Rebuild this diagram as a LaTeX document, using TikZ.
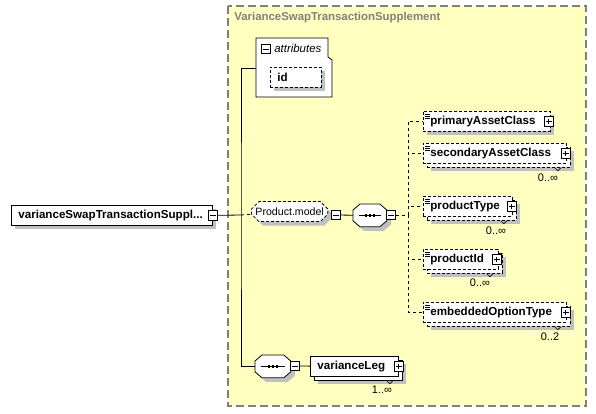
\documentclass[tikz,border=0pt]{standalone}
\usepackage{fontspec}
\setmainfont{Liberation Sans}
\usetikzlibrary{shapes.misc,shadows,positioning,calc}
\definecolor{bgyellow}{RGB}{255,255,192}
\definecolor{frame1}{RGB}{128,128,128}
\definecolor{shade1}{RGB}{192,192,192}

\tikzset{
  shad/.style={drop shadow={shadow xshift=#1, shadow yshift=-#1, fill=shade1, opacity=1}},
  elem/.style={draw, fill=white, anchor=north west, minimum height=20pt, inner xsep=7pt, inner ysep=0pt,
    font=\fontsize{11.6pt}{13pt}\selectfont\bfseries, align=left, shad=4pt},
  att/.style={elem, dash pattern=on 3pt off 2pt},
  opt/.style={att, path picture={
    \foreach \dy in {2.5,4.5,6.5}
      \draw[solid, line width=0.6pt] ([shift={(2pt,-\dy pt)}]path picture bounding box.north west) -- ++(5pt,0pt);}},
  multi/.style={shad=8pt, copy shadow={shadow xshift=4pt, shadow yshift=-4pt}},
  grp/.style={chamfered rectangle, chamfered rectangle xsep=4pt, draw, dash pattern=on 3pt off 2pt, fill=white,
    anchor=north west, minimum height=20pt, inner sep=0pt, shad=4pt},
  seq/.style={anchor=north west, minimum width=33pt, minimum height=22pt, inner sep=0pt},
  tog/.style={draw, fill=white, minimum size=9.5pt, inner sep=0pt},
  minus/.style={tog, path picture={
    \draw ([xshift=2pt]path picture bounding box.west) -- ([xshift=-2pt]path picture bounding box.east);}},
  plus/.style={tog, path picture={
    \draw ([xshift=2pt]path picture bounding box.west) -- ([xshift=-2pt]path picture bounding box.east)
          ([yshift=-2pt]path picture bounding box.north) -- ([yshift=2pt]path picture bounding box.south);}},
  mult/.style={font=\fontsize{11pt}{13pt}\selectfont, inner sep=0pt},
}

% outline and sign of a sequence compositor round node #1
\newcommand{\seqbox}[1]{%
  \draw[fill=white, shad=4pt] ([xshift=7pt]#1.north west) -- ([xshift=-7pt]#1.north east)
    -- ([yshift=-6pt]#1.north east) -- ([yshift=6pt]#1.south east) -- ([xshift=-7pt]#1.south east)
    -- ([xshift=7pt]#1.south west) -- ([yshift=6pt]#1.south west) -- ([yshift=-6pt]#1.north west) -- cycle;
  \draw ([xshift=6pt]#1.west) -- ([xshift=-6pt]#1.east);
  \foreach \dx in {-4,0,4}
    \fill ([xshift=\dx pt]#1.center) +(-1.3pt,-1.3pt) rectangle +(1.3pt,1.3pt);}

\begin{document}
\begin{tikzpicture}[x=1pt, y=-1pt, line width=0.8pt]
    \useasboundingbox (0,0) rectangle (596,413);

    % complex type frame
    \draw[fill=bgyellow, draw=frame1, line width=1.2pt, dash pattern=on 8pt off 4pt] (228,6) rectangle (586,406);
    \node[anchor=west, text=frame1, font=\fontsize{11.4pt}{13pt}\selectfont\bfseries, inner sep=0pt] (title) at (234,18) {VarianceSwapTransactionSupplement};

    % root element
    \node[elem, text width=187pt] (root) at (11,205) {varianceSwapTransactionSuppl...};
    \node[minus] (rootmin) at (root.east) {};
    \coordinate (trunk) at (241,215);

    % attributes
    \draw[fill=white] (256,38) -- (328,38) -- (328,57) -- (332,60) -- (332,97) -- (256,97) -- cycle;
    \coordinate (attr) at (256,68);
    \node[minus] (attrmin) at (266,49) {};
    \node[anchor=west, inner sep=0pt, font=\fontsize{11.4pt}{13pt}\selectfont\itshape] (attrlbl) at (274,48) {attributes};
    \node[att, text width=37pt] (id) at (270,67) {id};

    % model group
    \node[grp, minimum width=75pt, font=\fontsize{10.6pt}{13pt}\selectfont] (model) at (255,205) {Product.model};
    \node[minus] (modelmin) at (336,215) {};
    \node[seq] (seq1) at (353,204) {};
    \seqbox{seq1}
    \node[minus] (seq1min) at (391,215) {};
    \coordinate (fork) at (408,215);

    \node[opt, text width=113pt] (primary) at (423,111) {primaryAssetClass};
    \node[plus] (primaryplus) at ([xshift=-2pt]primary.east) {};
    \node[opt, multi, text width=129pt] (secondary) at (423,143) {secondaryAssetClass};
    \node[plus] (secondaryplus) at ([xshift=-1pt]secondary.east) {};
    \node[mult] (secondarymult) at (548,178) {0..∞};
    \node[opt, multi, text width=75pt] (ptype) at (423,196) {productType};
    \node[plus] (ptypeplus) at ([xshift=-1pt]ptype.east) {};
    \node[mult] (ptypemult) at (496,231) {0..∞};
    \node[opt, multi, text width=61pt] (pid) at (423,249) {productId};
    \node[plus] (pidplus) at ([xshift=-2pt]pid.east) {};
    \node[mult] (pidmult) at (480,283) {0..∞};
    \node[opt, multi, text width=129pt] (embedded) at (423,302) {embeddedOptionType};
    \node[plus] (embeddedplus) at ([xshift=-1pt]embedded.east) {};
    \node[mult] (embeddedmult) at (550,337) {0..2};

    % leg sequence
    \node[seq, minimum width=35pt] (seq2) at (255,355) {};
    \seqbox{seq2}
    \node[minus] (seq2min) at (295,366) {};
    \node[elem, multi, text width=74pt] (leg) at (310,356) {varianceLeg};
    \node[plus] (legplus) at (leg.east) {};
    \node[mult] (legmult) at (382,390) {1..∞};

    % multiplicity notches
    \foreach \n in {secondary,ptype,pid,embedded,leg}
      \draw[line width=0.6pt] ([shift={(-12pt,-4pt)}]\n.south east) -- ++(3pt,-3pt) -- ++(3pt,3pt);

    \draw (rootmin) -- (trunk);
    \draw[dashed] (trunk) -- (model);
    \draw (attr) -| (trunk) |- (seq2);
    \draw (modelmin) -- (seq1);
    \draw (seq1) -- (seq1min);
    \draw[dashed] (seq1min) -- (fork);
    \draw[dashed] (fork) |- (primary);
    \draw[dashed] (fork) |- (secondary);
    \draw[dashed] (fork) |- (ptype);
    \draw[dashed] (fork) |- (pid);
    \draw[dashed] (fork) |- (embedded);
    \draw (seq2) -- (seq2min);
    \draw (seq2min) -- (leg);
\end{tikzpicture}
\end{document}
